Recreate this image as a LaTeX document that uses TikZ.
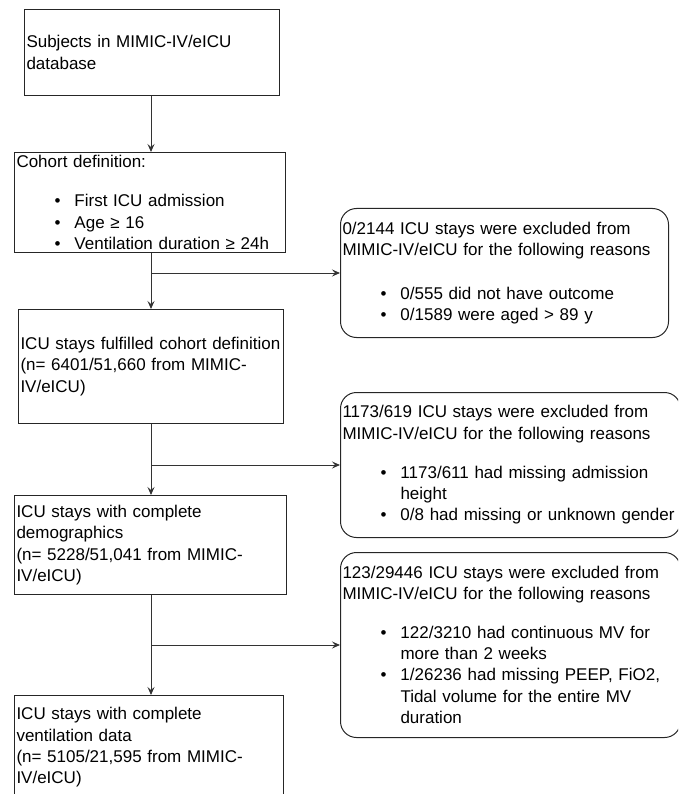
\documentclass[tikz,border=0pt]{standalone}
\usepackage{fontspec}
\setmainfont{Liberation Sans}
\usetikzlibrary{arrows.meta}
\newcommand{\bul}{\makebox[58pt][l]{\hspace{38pt}\textbullet}}
\newcommand{\hng}{\hspace*{58pt}}

\begin{document}
\begin{tikzpicture}[x=1pt, y=-1pt,
        box/.style={draw=black!85, line width=1pt, anchor=north west, align=left,
                inner xsep=2pt, inner ysep=0pt, font=\fontsize{17}{21.3}\selectfont},
        exbox/.style={box, rounded corners=16pt},
        arr/.style={-{Stealth[length=8pt,width=7pt,inset=3pt]}, draw=black!80, line width=1pt}]
        \useasboundingbox (0,0) rectangle (678,794);
        \clip (0,0) rectangle (678,794);
        \coordinate (trunk) at (151,0);
        \node[box, text width=251pt, minimum height=86pt] (subj) at (24,9)
                {Subjects in MIMIC-IV/eICU\\database};
        \node[box, text width=267pt, minimum height=100pt] (cohort) at (14,152)
                {Cohort definition:\\[18pt]
                \bul First ICU admission\\
                \bul Age ≥ 16\\
                \bul Ventilation duration ≥ 24h};
        \node[box, text width=261pt, minimum height=114pt] (fulfil) at (18,309)
                {ICU stays fulfilled cohort definition\\(n= 6401/51,660 from MIMIC-\\IV/eICU)};
        \node[box, text width=268pt, minimum height=99pt] (demo) at (14,495)
                {ICU stays with complete\\demographics\\(n= 5228/51,041 from MIMIC-\\IV/eICU)};
        \node[box, text width=265pt, minimum height=104pt] (vent) at (14,695)
                {ICU stays with complete\\ventilation data\\(n= 5105/21,595 from MIMIC-\\IV/eICU)};
        \node[exbox, text width=324pt, minimum height=129pt] (ex1) at (340,208)
                {0/2144 ICU stays were excluded from\\
                MIMIC-IV/eICU for the following reasons\\[22pt]
                \bul 0/555 did not have outcome\\
                \bul 0/1589 were aged > 89 y};
        \node[exbox, text width=336pt, minimum height=145pt] (ex2) at (340,392)
                {1173/619 ICU stays were excluded from\\
                MIMIC-IV/eICU for the following reasons\\[18pt]
                \bul 1173/611 had missing admission\\
                \hng height\\
                \bul 0/8 had missing or unknown gender};
        \node[exbox, text width=336pt, minimum height=185pt] (ex3) at (340,552)
                {123/29446 ICU stays were excluded from\\
                MIMIC-IV/eICU for the following reasons\\[17pt]
                \bul 122/3210 had continuous MV for\\
                \hng more than 2 weeks\\
                \bul 1/26236 had missing PEEP, FiO2,\\
                \hng Tidal volume for the entire MV\\
                \hng duration};
        \draw[arr] (trunk |- subj.south) -- (trunk |- cohort.north);
        \draw[arr] (trunk |- cohort.south) -- (trunk |- fulfil.north);
        \draw[arr] (trunk |- ex1.west) -- (ex1.west);
        \draw[arr] (trunk |- fulfil.south) -- (trunk |- demo.north);
        \draw[arr] (trunk |- ex2.west) -- (ex2.west);
        \draw[arr] (trunk |- demo.south) -- (trunk |- vent.north);
        \draw[arr] (trunk |- ex3.west) -- (ex3.west);
\end{tikzpicture}
\end{document}
